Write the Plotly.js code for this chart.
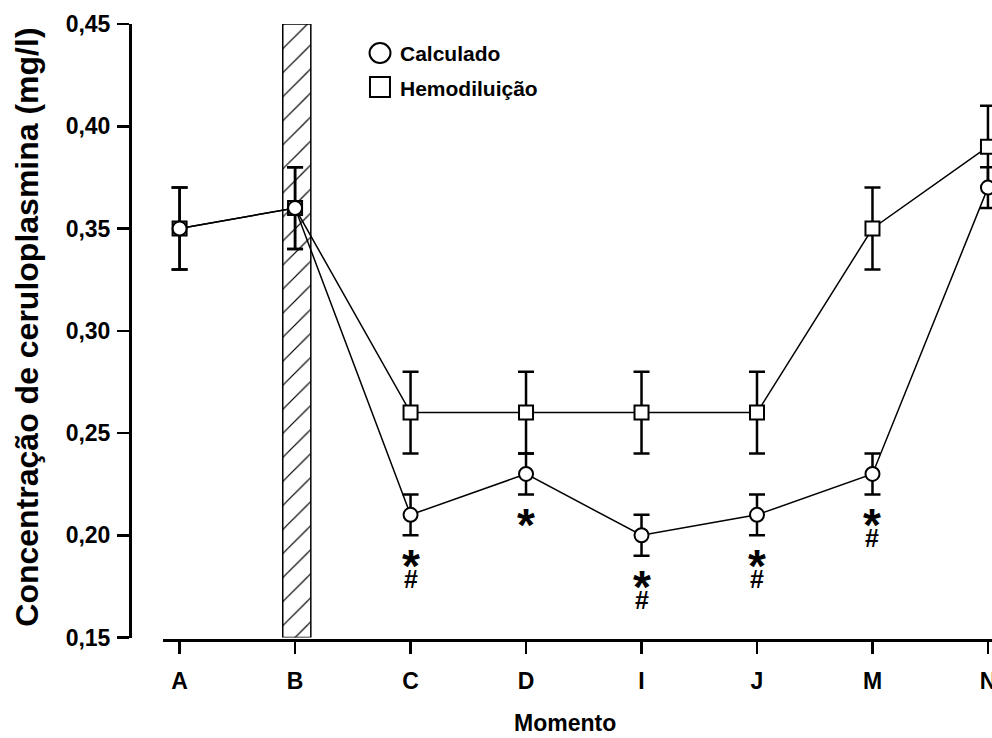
<!DOCTYPE html>
<html>
<head>
<meta charset="utf-8">
<script src="https://cdn.plot.ly/plotly-3.0.1.min.js"></script>
<style>
  html, body { margin: 0; padding: 0; background: #fff; overflow: hidden; }
  #chart { width: 992px; height: 738px; }
</style>
</head>
<body>
<div id="chart"></div>
<script>
// Momentos de coleta
var momentos = ['A', 'B', 'C', 'D', 'I', 'J', 'M', 'N'];

// Ceruloplasmina calculada (mg/l) e erro
var calculado    = [0.35, 0.36, 0.21, 0.23, 0.20, 0.21, 0.23, 0.37];
var calculadoErr = [0.02, 0.02, 0.01, 0.01, 0.01, 0.01, 0.01, 0.01];

// Ceruloplasmina corrigida pela hemodiluição (mg/l) e erro
var hemodiluicao    = [0.35, 0.36, 0.26, 0.26, 0.26, 0.26, 0.35, 0.39];
var hemodiluicaoErr = [0.02, 0.02, 0.02, 0.02, 0.02, 0.02, 0.02, 0.02];

// Marcas de significância sob a série calculada
var asterisco = ['', '', '*', '*', '*', '*', '*', ''];
var cerquilha = ['', '', '#', '', '#', '#', '#', ''];

// Faixa hachurada no momento B
var faixaMomento = 'B';
var faixaMin = 0.15;
var faixaMax = 0.45;

// Rótulos do eixo y
var yTicks = [0.15, 0.20, 0.25, 0.30, 0.35, 0.40, 0.45];

var FONT = 'Arial, Liberation Sans, Helvetica, sans-serif';
var idx = momentos.map(function (m, i) { return i; });

var faixa = {
  type: 'bar',
  x: [momentos.indexOf(faixaMomento) + 0.015],
  y: [faixaMax - faixaMin],
  base: [faixaMin],
  width: [0.243],
  marker: {
    color: 'white',
    line: { color: 'black', width: 1.5 },
    pattern: { shape: '/', fgcolor: 'black', bgcolor: 'white', size: 17, solidity: 0.07 }
  },
  hoverinfo: 'skip',
  showlegend: false
};

function serie(valores, erros, simbolo) {
  return {
    type: 'scatter',
    mode: 'lines+markers',
    x: idx,
    y: valores,
    cliponaxis: false,
    line: { color: 'black', width: 1.5 },
    marker: { symbol: simbolo, size: 14, color: 'white', line: { color: 'black', width: 2 } },
    error_y: { type: 'data', array: erros, visible: true, color: 'black', thickness: 2.5, width: 8 },
    showlegend: false
  };
}

var traces = [
  faixa,
  serie(hemodiluicao, hemodiluicaoErr, 'square'),
  serie(calculado, calculadoErr, 'circle')
];

var annotations = [];
idx.forEach(function (i) {
  var base = calculado[i] - calculadoErr[i];
  if (asterisco[i]) {
    annotations.push({
      x: i, y: base, xref: 'x', yref: 'y', text: asterisco[i], showarrow: false,
      xanchor: 'center', yanchor: 'middle', yshift: -31,
      font: { family: FONT, size: 46, color: 'black', weight: 'bold' }
    });
  }
  if (cerquilha[i]) {
    annotations.push({
      x: i, y: base, xref: 'x', yref: 'y', text: cerquilha[i], showarrow: false,
      xanchor: 'center', yanchor: 'middle', yshift: -44,
      font: { family: FONT, size: 25, color: 'black', weight: 'bold' }
    });
  }
});

// Títulos dos eixos
annotations.push({
  text: 'Concentração de ceruloplasmina (mg/l)', textangle: -90,
  xref: 'paper', yref: 'y domain', x: 0, y: 0.505, xshift: -103,
  xanchor: 'center', yanchor: 'middle', showarrow: false,
  font: { family: FONT, size: 32, color: 'black', weight: 'bold' }
});
annotations.push({
  text: 'Momento',
  xref: 'x domain', yref: 'paper', x: 0.485, y: 0, yshift: -83,
  xanchor: 'center', yanchor: 'middle', showarrow: false,
  font: { family: FONT, size: 23, color: 'black', weight: 'bold' }
});

// Legenda
annotations.push({
  text: 'Calculado', xref: 'paper', yref: 'paper', x: 0.3110, y: 0.9529,
  xanchor: 'left', yanchor: 'middle', showarrow: false,
  font: { family: FONT, size: 21, color: 'black', weight: 'bold' }
});
annotations.push({
  text: 'Hemodiluição', xref: 'paper', yref: 'paper', x: 0.3110, y: 0.8961,
  xanchor: 'left', yanchor: 'middle', showarrow: false,
  font: { family: FONT, size: 21, color: 'black', weight: 'bold' }
});

var shapes = [
  { type: 'circle', xref: 'paper', yref: 'paper', x0: 0.2779, x1: 0.3022, y0: 0.9367, y1: 0.9692,
    line: { color: 'black', width: 2 }, fillcolor: 'white' },
  { type: 'rect', xref: 'paper', yref: 'paper', x0: 0.2784, x1: 0.3016, y0: 0.8815, y1: 0.9140,
    line: { color: 'black', width: 2 }, fillcolor: 'white' }
];

var layout = {
  width: 992, height: 738,
  margin: { l: 130, r: 0, t: 24, b: 98, pad: 0 },
  paper_bgcolor: 'white', plot_bgcolor: 'white',
  separators: ', ',
  showlegend: false,
  bargap: 0,
  xaxis: {
    type: 'linear', range: [-0.142, 7.035], domain: [0.0385, 1],
    anchor: 'free', position: 0,
    tickmode: 'array', tickvals: idx, ticktext: momentos,
    ticks: 'outside', ticklen: 12, tickwidth: 2.5, tickcolor: 'black',
    ticklabeloverflow: 'allow', ticklabelstandoff: 7,
    showline: true, linewidth: 3, linecolor: 'black',
    showgrid: false, zeroline: false,
    tickfont: { family: FONT, size: 23, color: 'black', weight: 'bold' }
  },
  yaxis: {
    range: [0.15, 0.45], domain: [0.004, 1],
    anchor: 'free', position: 0,
    tickmode: 'array', tickvals: yTicks, tickformat: '.2f',
    ticks: 'outside', ticklen: 12, tickwidth: 2.5, tickcolor: 'black',
    ticklabelstandoff: 2,
    showline: true, linewidth: 3, linecolor: 'black',
    showgrid: false, zeroline: false,
    tickfont: { family: FONT, size: 23, color: 'black', weight: 'bold' }
  },
  annotations: annotations,
  shapes: shapes
};

Plotly.newPlot('chart', traces, layout, { displayModeBar: false, staticPlot: true });
</script>
</body>
</html>
